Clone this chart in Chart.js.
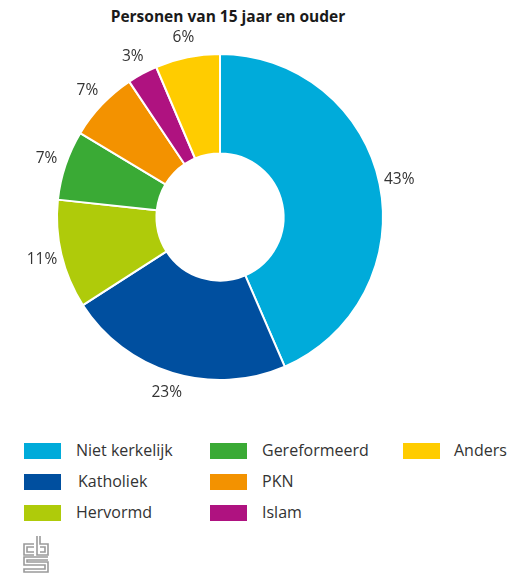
<!DOCTYPE html>
<html>
<head>
<meta charset="utf-8">
<script src="https://cdn.jsdelivr.net/npm/chart.js@4"></script>
<style>
  body { margin: 0; background: #fff; font-family: "Open Sans", sans-serif; color: #222; }
  #wrap { position: relative; width: 528px; height: 574px; }
  #title { position: absolute; left: 0; width: 456px; top: 5px; text-align: center; font-weight: bold; font-size: 15.5px; color: #1a1a1a; }
  #chartBox { position: absolute; left: 0; top: 0; width: 528px; height: 420px; }
  .leg { position: absolute; font-size: 16px; color: #333; line-height: 16px; }
  .leg span { position: absolute; left: 0; top: 0; width: 37px; height: 16px; }
  .leg b { position: absolute; top: 0; font-weight: normal; white-space: nowrap; }
  #logo { position: absolute; left: 23px; top: 536px; }
</style>
</head>
<body>
<div id="wrap">
  <div id="title">Personen van 15 jaar en ouder</div>
  <div id="chartBox"><canvas id="myChart"></canvas></div>
  <div id="legend"></div>
  <svg id="logo" width="26" height="37" viewBox="0 0 26 37" fill="none" stroke="#9a9a9a" stroke-width="1.6">
    <path d="M11 8H1V19H11M11 11H4V16H11"/>
    <path d="M14 0V19H25V8H17V0M17 11H22V16H17"/>
    <path d="M25 21H1V29H22V33H1V36H25V26H4V24H25"/>
  </svg>
</div>
<script>
const labels = ["Niet kerkelijk", "Katholiek", "Hervormd", "Gereformeerd", "PKN", "Islam", "Anders"];
const values = [43.5, 22.4, 10.8, 6.9, 7.0, 3.0, 6.4];
const percentLabels = ["43%", "23%", "11%", "7%", "7%", "3%", "6%"];
const colors = ["#00abda", "#004f9f", "#afcb0a", "#3aaa35", "#f39200", "#af1280", "#ffcc00"];

// legend in columns, top to bottom
const legendCols = [24, 210, 403];
const legendTextX = [52, 52, 51];
const legendRows = [443, 474, 505];
let legendHtml = "";
labels.forEach(function (lab, i) {
  const c = Math.floor(i / 3), r = i % 3;
  const dx = (lab === "Katholiek") ? 54 : legendTextX[c];
  legendHtml += "<div class='leg' style='left:" + legendCols[c] + "px;top:" + legendRows[r] + "px'>" +
    "<span style='background:" + colors[i] + "'></span><b style='left:" + dx + "px;top:-1px'>" + lab + "</b></div>";
});
document.getElementById("legend").innerHTML = legendHtml;

const outsideLabels = {
  id: "outsideLabels",
  afterDatasetsDraw(chart) {
    const ctx = chart.ctx;
    const meta = chart.getDatasetMeta(0);
    ctx.save();
    ctx.font = "15.5px 'Open Sans'";
    ctx.fillStyle = "#333";
    ctx.textAlign = "center";
    ctx.textBaseline = "middle";
    meta.data.forEach(function (arc, i) {
      const p = arc.getProps(["x", "y", "startAngle", "endAngle", "outerRadius"], true);
      const a = (p.startAngle + p.endAngle) / 2;
      const r = p.outerRadius + 20;
      ctx.fillText(percentLabels[i], p.x + Math.cos(a) * r, p.y + Math.sin(a) * r);
    });
    ctx.restore();
  }
};

const config = {
  type: "doughnut",
  data: {
    labels: labels,
    datasets: [{
      data: values,
      backgroundColor: colors,
      borderColor: "#ffffff",
      borderWidth: 2,
      hoverOffset: 0,
    }],
  },
  options: {
    responsive: true,
    maintainAspectRatio: false,
    animation: false,
    cutout: "39%",
    layout: { padding: { left: 56, right: 144, top: 53, bottom: 39 } },
    plugins: { legend: { display: false }, tooltip: { enabled: false } },
  },
  plugins: [outsideLabels],
};
var myChart = new Chart(document.getElementById("myChart"), config);
</script>
</body>
</html>
